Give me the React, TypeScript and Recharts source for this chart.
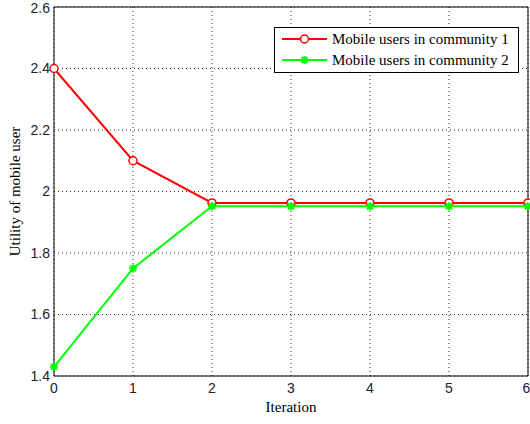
import React from 'react';
import { LineChart, Line, XAxis, YAxis, CartesianGrid, Legend, ReferenceLine, Label } from 'recharts';

const iterations = [0, 1, 2, 3, 4, 5, 6];
const community1 = [2.4, 2.1, 1.963, 1.963, 1.963, 1.963, 1.963];
const community2 = [1.43, 1.75, 1.952, 1.952, 1.952, 1.952, 1.952];
const xTicks = [0, 1, 2, 3, 4, 5, 6];
const yTicks = [1.4, 1.6, 1.8, 2.0, 2.2, 2.4, 2.6];
const seriesNames = ['Mobile users in community 1', 'Mobile users in community 2'];

const data = iterations.map((it, i) => ({ it, c1: community1[i], c2: community2[i] }));

const RED = '#ff0000';
const GREEN = '#00ff00';
const SERIF = '"Liberation Serif", "Times New Roman", serif';
const SANS = '"Liberation Sans", Arial, sans-serif';

const Circle = (props: any) => {
  const { cx, cy } = props;
  if (cx == null || cy == null) return null;
  return <circle cx={cx} cy={cy} r={4} fill="#fff" stroke={RED} strokeWidth={1.5} />;
};

const Star = (props: any) => {
  const { cx, cy } = props;
  if (cx == null || cy == null) return null;
  const s = 4;
  const d = 3;
  return (
    <g stroke={GREEN} strokeWidth={2}>
      <line x1={cx - s} y1={cy} x2={cx + s} y2={cy} />
      <line x1={cx} y1={cy - s} x2={cx} y2={cy + s} />
      <line x1={cx - d} y1={cy - d} x2={cx + d} y2={cy + d} />
      <line x1={cx - d} y1={cy + d} x2={cx + d} y2={cy - d} />
    </g>
  );
};

const LegendBox = () => (
  <div
    style={{
      width: 245,
      height: 46,
      boxSizing: 'border-box',
      border: '1px solid #000',
      background: '#fff',
      position: 'relative',
    }}
  >
    <svg width={245} height={46} style={{ position: 'absolute', left: -1, top: -1 }}>
      <line x1={8} y1={12} x2={53} y2={12} stroke={RED} strokeWidth={2} />
      <Circle cx={30.5} cy={12} />
      <text x={58} y={17} fontFamily={SERIF} fontSize={15} fill="#000">{seriesNames[0]}</text>
      <line x1={8} y1={33} x2={53} y2={33} stroke={GREEN} strokeWidth={2} />
      <Star cx={30.5} cy={33} />
      <text x={58} y={38} fontFamily={SERIF} fontSize={15} fill="#000">{seriesNames[1]}</text>
    </svg>
  </div>
);

const YLabel = (props: any) => {
  const vb = props.viewBox || {};
  const cx = 15;
  const cy = (vb.y ?? 7) + (vb.height ?? 369) / 2;
  return (
    <text x={cx} y={cy} transform={`rotate(-90 ${cx} ${cy})`} textAnchor="middle" dominantBaseline="central" fontFamily={SERIF} fontSize={15} fill="#000">
      Utility of mobile user
    </text>
  );
};

const XLabel = (props: any) => {
  const vb = props.viewBox || {};
  const cx = (vb.x ?? 54) + (vb.width ?? 474) / 2;
  return (
    <text x={cx} y={412} textAnchor="middle" fontFamily={SERIF} fontSize={15} fill="#000">
      Iteration
    </text>
  );
};

const fmt = (v: number) => String(Number(v.toFixed(1)));

export default function App() {
  return (
    <div style={{ position: 'absolute', left: 0, top: 0, width: 530, height: 424, background: '#fff' }}>
      <LineChart width={530} height={424} data={data} margin={{ top: 7, right: 2, left: 0, bottom: 0 }}>
        <CartesianGrid stroke="#333" strokeDasharray="1 3" />
        <XAxis
          dataKey="it"
          type="number"
          domain={[0, 6]}
          ticks={xTicks}
          height={48}
          tickSize={0}
          tickMargin={7}
          tickLine={false}
          stroke="#000"
          tick={{ fontFamily: SANS, fontSize: 14, fill: '#222' }}
        >
          <Label content={<XLabel />} />
        </XAxis>
        <YAxis
          type="number"
          domain={[1.4, 2.6]}
          ticks={yTicks}
          width={54}
          tickSize={0}
          tickMargin={4}
          tickLine={false}
          stroke="#000"
          tickFormatter={fmt}
          tick={{ fontFamily: SANS, fontSize: 14, fill: '#222' }}
        >
          <Label content={<YLabel />} />
        </YAxis>
        <ReferenceLine y={2.6} stroke="#000" strokeWidth={1} />
        <ReferenceLine x={6} stroke="#000" strokeWidth={1} />
        <Line dataKey="c1" name={seriesNames[0]} stroke={RED} strokeWidth={2} dot={<Circle />} activeDot={false} isAnimationActive={false} />
        <Line dataKey="c2" name={seriesNames[1]} stroke={GREEN} strokeWidth={2} dot={<Star />} activeDot={false} isAnimationActive={false} />
        <Legend
          layout="vertical"
          align="center"
          verticalAlign="middle"
          content={<LegendBox />}
          wrapperStyle={{ position: 'absolute', left: 274, top: 27, width: 245, height: 46 }}
        />
      </LineChart>
    </div>
  );
}
